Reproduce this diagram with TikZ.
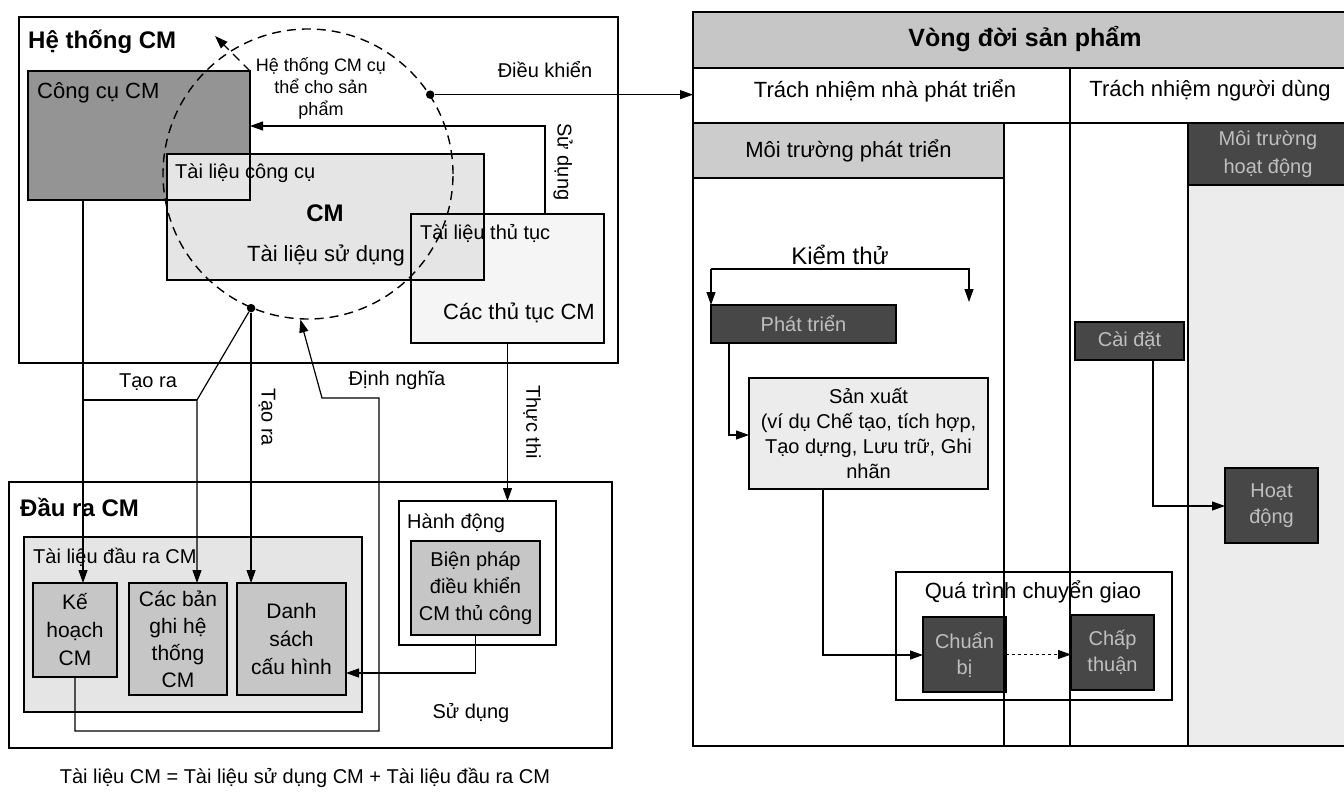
\documentclass[tikz,border=0pt]{standalone}
\usepackage{fontspec}
\setmainfont{Liberation Sans}
\usetikzlibrary{arrows.meta,positioning,calc}
\tikzset{
  hop/.style={draw,line width=1.1pt,anchor=north west,inner sep=0pt,outer sep=0pt},
  chu/.style={font=\fontsize{20}{26}\selectfont,inner sep=0pt,align=center},
  chuto/.style={font=\fontsize{22}{26}\selectfont,inner sep=0pt,align=center},
  tde/.style={font=\bfseries\fontsize{24}{28}\selectfont,inner sep=0pt},
  toi/.style={fill=black!72,text=gray!50},
  muiten/.style={-{Triangle[length=13pt,width=9pt]}},
  noi/.style={line width=1.2pt},
  net/.style={line width=1.4pt,dash pattern=on 9pt off 6pt},
  cham/.style={circle,fill,inner sep=3pt},
}
\begin{document}
\begin{tikzpicture}[x=1pt,y=-1pt]
  \useasboundingbox (0,0) rectangle (1344,792);
  % He thong CM
  \node[hop,minimum width=599,minimum height=346] (hethong) at (19,17) {};
  \node[tde,anchor=west] (t-ht) at (28,42) {Hệ thống CM};
  \node[hop,fill=black!42,minimum width=222,minimum height=129] (congcu) at (28,71) {};
  \node[hop,fill=gray!8,minimum width=193,minimum height=129] (thutuc) at (411,214) {};
  \node[hop,fill=gray!20,minimum width=317,minimum height=126] (cm) at (167,154) {};
  \draw[noi] (congcu.south -| cm.west) -| (congcu.east |- cm.north);
  \draw[noi] (cm.east |- thutuc.north) -| (thutuc.west |- cm.south);
  \node[chuto,anchor=west] (t-cc) at (37,93) {Công cụ CM};
  \node[chu,anchor=west] (t-tlcc) at (175,173) {Tài liệu công cụ};
  \node[tde] (t-cm) at (325,213) {CM};
  \node[chuto] (t-tlsd) at (326,255) {Tài liệu sử dụng};
  \node[chu,anchor=west] (t-tltt) at (420,233) {Tài liệu thủ tục};
  \node[chuto] (t-cttcm) at (519,313) {Các thủ tục CM};
  \node[circle,draw,net,minimum size=290,inner sep=0pt] (htsp) at (308,174) {};
  \node[font=\fontsize{18}{22}\selectfont,inner sep=0pt,align=center] (t-htsp) at (321,88)
    {Hệ thống CM cụ\\thể cho sản\\phẩm};
  \node[chu] (t-dk) at (545,70) {Điều khiển};
  \node[chu,rotate=-90] (t-sd1) at (563,162) {Sử dụng};
  \node[chu] (t-tr1) at (148,382) {Tạo ra};
  \node[chu,rotate=-90] (t-tr2) at (267,417) {Tạo ra};
  \node[chu] (t-dn) at (397,380) {Định nghĩa};
  \node[chu,rotate=-90] (t-tt) at (532,422) {Thực thi};

  % Dau ra CM
  \node[hop,minimum width=603,minimum height=266] (daura) at (9,482) {};
  \node[tde,anchor=west] (t-dr) at (20,507) {Đầu ra CM};
  \node[hop,fill=gray!20,minimum width=338,minimum height=175] (tldr) at (24,537) {};
  \node[chu,anchor=west] (t-tldr) at (33,557) {Tài liệu đầu ra CM};
  \node[hop,chu,fill=gray!45,minimum width=84,minimum height=94,font=\fontsize{21}{28}\selectfont]
    (kehoach) at (33,583) {Kế\\hoạch\\CM};
  \node[hop,chu,fill=gray!45,minimum width=98,minimum height=112,font=\fontsize{21}{27}\selectfont]
    (banghi) at (129,583) {Các bản\\ghi hệ\\thống\\CM};
  \node[hop,chu,fill=gray!45,minimum width=109,minimum height=112,font=\fontsize{21}{28}\selectfont]
    (danhsach) at (237,583) {Danh\\sách\\cấu hình};
  \node[hop,minimum width=157,minimum height=144] (hanhdong) at (399,501) {};
  \node[chu,anchor=west] (t-hd) at (407,523) {Hành động};
  \node[hop,chu,fill=gray!45,minimum width=129,minimum height=94,font=\fontsize{20}{27}\selectfont]
    (bienphap) at (411,541) {Biện pháp\\điều khiển\\CM thủ công};
  \node[chu] (t-sd2) at (471,713) {Sử dụng};
  \node[chu] (t-ct) at (305,778) {Tài liệu CM = Tài liệu sử dụng CM + Tài liệu đầu ra CM};

  % Vong doi san pham
  \node[hop,minimum width=700,minimum height=734] (khung) at (693,12) {};
  \node[hop,fill=gray!45,minimum width=700,minimum height=56] (dau) at (693,12) {};
  \node[tde,font=\bfseries\fontsize{25}{28}\selectfont] (t-vd) at (1025,39) {Vòng đời sản phẩm};
  \node[hop,minimum width=700,minimum height=55] (hang) at (693,68) {};
  \node[chuto] (t-tnpt) at (885,91) {Trách nhiệm nhà phát triển};
  \node[chuto] (t-tnnd) at (1210,91) {Trách nhiệm người dùng};
  \node[hop,chuto,fill=gray!40,minimum width=311,minimum height=55] (mtpt) at (693,123) {Môi trường phát triển};
  \node[hop,fill=gray!15,minimum width=160,minimum height=561] (vung) at (1188,185) {};
  \node[hop,chu,toi,minimum width=160,minimum height=62,font=\fontsize{20}{28}\selectfont]
    (mthd) at (1188,123) {Môi trường\\hoạt động};
  \node[chuto,font=\fontsize{24}{28}\selectfont] (t-kt) at (840,255) {Kiểm thử};
  \node[hop,chu,toi,minimum width=185,minimum height=38] (phattrien) at (711,305) {Phát triển};
  \node[hop,chu,fill=gray!15,minimum width=239,minimum height=111,font=\fontsize{20}{25}\selectfont]
    (sanxuat) at (749,378) {Sản xuất\\(ví dụ Chế tạo, tích hợp,\\Tạo dựng, Lưu trữ, Ghi\\nhãn};
  \node[hop,fill=white,minimum width=276,minimum height=128] (chuyengiao) at (896,572) {};
  \node[chuto] (t-qt) at (1033,592) {Quá trình chuyển giao};
  \node[hop,chu,toi,minimum width=83,minimum height=75,font=\fontsize{20}{26}\selectfont]
    (chuanbi) at (923,617) {Chuẩn\\bị};
  \node[hop,chu,toi,minimum width=83,minimum height=75,font=\fontsize{20}{26}\selectfont]
    (chapthuan) at (1071,615) {Chấp\\thuận};
  \node[hop,chu,toi,minimum width=109,minimum height=38] (caidat) at (1075,322) {Cài đặt};
  \node[hop,chu,toi,minimum width=93,minimum height=75,font=\fontsize{20}{26}\selectfont]
    (hoatdong) at (1225,468) {Hoạt\\động};
  \coordinate (cot) at (1070,68);
  \draw[noi] (mtpt.north east) -- (mtpt.north east |- khung.south);
  \draw[noi] (cot) -- (cot |- khung.south);

  % noi (left)
  \coordinate (dd) at (215,36);
  \draw[net,muiten] (congcu.north east) -- (dd);
  \node[cham] (dk) at (htsp.33) {};
  \draw[noi,muiten] (dk) -- (dk -| khung.west);
  \coordinate (su1) at (545,126);
  \draw[noi,muiten] (su1 |- thutuc.north) -- (su1) -- (su1 -| congcu.east);
  \coordinate (tr) at (83,400);
  \coordinate (tr2) at (197,400);
  \draw[noi,muiten] (tr |- congcu.south) -- (tr |- kehoach.north);
  \node[cham] (tao) at (htsp.247) {};
  \draw[noi,muiten] (tao) -- (tr2) -- (tr2 |- banghi.north);
  \draw[noi] (tr2) -- (tr);
  \draw[noi,muiten] (tao) -- (tao |- danhsach.north);
  \coordinate (dn1) at (379,731);
  \coordinate (dn2) at (322,398);
  \draw[noi,muiten] (kehoach.south) |- (dn1) -- (dn1 |- dn2) -- (dn2) -- (htsp.267);
  \draw[noi,muiten] (thutuc.south) -- (thutuc.south |- hanhdong.north);
  \coordinate (su2) at (475,673);
  \draw[noi,muiten] (bienphap.south) -- (su2 -| bienphap.south) -- (su2 -| danhsach.east);

  % noi (right)
  \coordinate (ktl) at (711,269);
  \coordinate (ktr) at (969,269);
  \coordinate (kte) at (969,302);
  \draw[noi,muiten] (ktl) -- (ktr) -- (kte);
  \draw[noi,muiten] (ktl) -- (phattrien.north west);
  \coordinate (px) at (729,435);
  \draw[noi,muiten] (px |- phattrien.south) -- (px) -- (sanxuat.west |- px);
  \coordinate (sx) at (823,655);
  \draw[noi,muiten] (sx |- sanxuat.south) -- (sx) -- (chuanbi.west |- sx);
  \draw[noi,muiten,dashed] (chuanbi.east) -- (chuanbi.east -| chapthuan.west);
  \coordinate (cd) at (1153,506);
  \draw[noi,muiten] (cd |- caidat.south) -- (cd) -- (hoatdong.west |- cd);
\end{tikzpicture}
\end{document}
